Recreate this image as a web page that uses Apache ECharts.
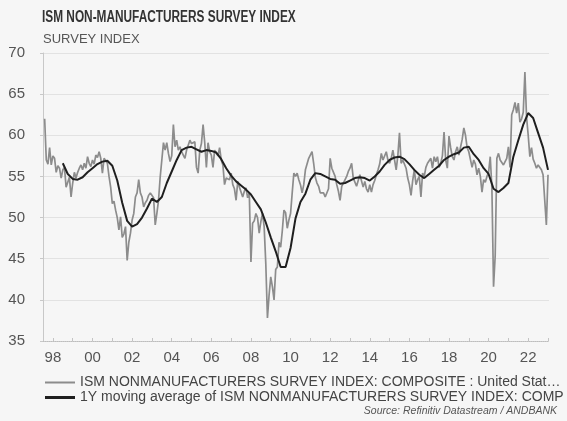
<!DOCTYPE html>
<html><head><meta charset="utf-8">
<script src="https://cdn.jsdelivr.net/npm/echarts@6/dist/echarts.min.js"></script>
<style>html,body{margin:0;padding:0;background:#f6f6f6}#c{width:567px;height:421px}</style>
</head><body><div id="c"></div>
<script>
// Monthly ISM non-manufacturing composite, first value Aug 1997
const firstYear = 1997, firstMonth = 8;
const v1997 = [62.0, 57.0, 56.5, 58.5, 56.4];
const v1998 = [57.5, 57.2, 55.5, 56.3, 56.0, 54.8, 55.8, 56.1, 53.7, 54.3, 54.9, 52.5];
const v1999 = [54.2, 55.5, 54.8, 55.5, 56.0, 56.4, 55.8, 56.6, 56.0, 57.4, 56.6, 56.2];
const v2000 = [57.0, 56.5, 57.6, 57.3, 58.0, 57.2, 55.4, 57.2, 57.0, 56.6, 55.0, 53.7];
const v2001 = [51.7, 52.0, 50.9, 50.0, 48.5, 50.1, 47.6, 48.0, 48.9, 44.8, 47.0, 48.1];
const v2002 = [49.7, 50.5, 52.5, 53.0, 54.6, 53.0, 52.5, 51.3, 51.8, 52.1, 52.7, 53.0];
const v2003 = [52.8, 52.4, 49.1, 50.5, 52.1, 54.9, 57.0, 59.1, 58.2, 59.1, 57.8, 56.8];
const v2004 = [57.5, 61.3, 58.6, 59.4, 58.2, 58.6, 58.0, 57.6, 57.2, 58.2, 58.8, 59.4];
const v2005 = [59.0, 59.0, 59.2, 56.1, 55.4, 58.2, 59.0, 61.3, 59.1, 56.1, 59.1, 58.0];
const v2006 = [57.6, 56.1, 58.2, 57.8, 57.5, 58.5, 57.0, 56.4, 54.0, 54.8, 55.0, 54.6];
const v2007 = [55.4, 54.0, 53.5, 52.1, 54.4, 53.7, 53.5, 52.5, 53.2, 53.6, 52.4, 53.0];
const v2008 = [44.6, 49.3, 49.6, 50.5, 50.0, 48.1, 49.5, 50.5, 48.9, 44.4, 37.8, 40.6];
const v2009 = [42.8, 41.6, 40.0, 43.7, 44.0, 47.0, 46.4, 48.4, 50.9, 50.6, 48.7, 49.7];
const v2010 = [50.5, 53.0, 55.4, 55.0, 55.4, 54.6, 54.0, 53.0, 54.0, 55.8, 56.5, 57.2];
const v2011 = [57.4, 58.0, 56.6, 54.9, 54.2, 53.8, 53.0, 52.8, 53.0, 52.5, 52.6, 53.5];
const v2012 = [57.2, 56.0, 55.8, 55.0, 54.0, 53.2, 52.1, 53.8, 54.2, 54.4, 55.0, 55.6];
const v2013 = [56.0, 56.6, 54.8, 54.6, 53.8, 54.0, 55.2, 55.0, 53.7, 54.4, 53.5, 53.1];
const v2014 = [54.0, 53.1, 54.0, 54.5, 55.2, 55.8, 56.5, 57.8, 57.0, 57.2, 58.0, 57.0];
const v2015 = [56.6, 57.2, 58.2, 57.0, 55.8, 57.5, 60.3, 56.6, 57.0, 57.2, 56.0, 54.8];
const v2016 = [54.0, 52.7, 54.5, 55.8, 54.0, 54.6, 55.0, 52.5, 55.4, 55.0, 56.1, 56.6];
const v2017 = [56.6, 57.2, 56.0, 57.4, 56.8, 57.4, 56.1, 56.6, 57.5, 60.4, 57.0, 56.0];
const v2018 = [59.9, 58.5, 57.4, 57.0, 58.0, 58.6, 57.6, 57.6, 59.5, 60.9, 60.0, 58.5];
const v2019 = [58.0, 57.8, 56.1, 57.0, 56.5, 55.2, 56.0, 55.0, 53.1, 54.6, 54.3, 55.0];
const v2020 = [55.5, 57.4, 53.6, 41.6, 45.4, 57.2, 57.8, 57.0, 57.0, 56.4, 56.8, 57.2];
const v2021 = [58.6, 56.1, 62.5, 63.1, 64.0, 62.7, 63.9, 61.6, 62.0, 62.8, 67.7, 62.2];
const v2022 = [60.0, 57.4, 58.5, 57.1, 56.6, 56.0, 56.4, 56.2, 55.8, 55.2, 55.4, 49.1];
const v2023 = [55.2];

// 1Y moving average, read every 3 months starting Jul 1998
const maFirstYear = 1998, maFirstMonth = 7, maStepMonths = 3;
const maValues = [56.6,55.3,54.7,54.6,54.9,55.5,56.0,56.5,56.8,56.9,
  56.3,54.5,51.8,49.6,48.9,49.2,50.0,51.1,52.3,51.9,
  52.5,54.2,55.6,57.0,58.2,58.5,58.6,58.3,58.0,58.2,
  58.1,57.9,57.1,56.0,55.1,54.4,53.9,53.4,52.8,51.9,
  51.0,49.4,47.6,45.9,44.0,44.0,46.3,49.9,51.9,52.9,
  54.6,55.4,55.3,55.0,54.7,54.6,54.1,54.2,54.5,54.8,
  54.9,54.8,54.5,55.0,55.6,56.4,57.0,57.3,57.4,57.1,
  56.5,55.8,55.2,54.8,55.3,55.8,56.3,57.0,57.4,57.7,
  57.9,58.5,58.6,57.7,57.0,56.0,55.3,53.5,53.1,53.6,
  54.2,57.4,59.4,61.3,62.7,62.1,60.3,58.5,55.8];

const yearTicks = [1998,2000,2002,2004,2006,2008,2010,2012,2014,2016,2018,2020,2022];
const titleText = 'ISM NON-MANUFACTURERS SURVEY INDEX';
const subtitleText = 'SURVEY INDEX';
const sourceText = 'Source: Refinitiv Datastream / ANDBANK';
const name1 = 'ISM NONMANUFACTURERS SURVEY INDEX: COMPOSITE : United Stat\u2026';
const name2 = '1Y moving average of ISM NONMANUFACTURERS SURVEY INDEX: COMP';

const monthly = [].concat(v1997,v1998,v1999,v2000,v2001,v2002,v2003,v2004,v2005,v2006,v2007,v2008,
  v2009,v2010,v2011,v2012,v2013,v2014,v2015,v2016,v2017,v2018,v2019,v2020,v2021,v2022,v2023);
const t0 = firstYear + (firstMonth - 1) / 12;
const grayData = monthly.map((v, i) => [t0 + i / 12, v]);
const m0 = maFirstYear + (maFirstMonth - 1) / 12;
const maData = maValues.map((v, i) => [m0 + i * maStepMonths / 12, v]);

const everyYear = [];
for (let y = 1998; y <= 2023; y++) everyYear.push(y);

const FF = 'Liberation Sans, Arial, sans-serif';
const chart = echarts.init(document.getElementById('c'), null, {renderer: 'canvas'});
chart.setOption({
  backgroundColor: '#f6f6f6',
  animation: false,
  textStyle: {fontFamily: FF},
  graphic: [
    {type: 'text', x: 42, y: 10, scaleX: 0.74, style: {text: titleText, fontFamily: FF, fontWeight: 'bold',
      fontSize: 16, fill: '#333', verticalAlign: 'top'}},
    {type: 'text', x: 43, y: 33, style: {text: subtitleText, fontFamily: FF, fontSize: 13,
      fill: '#555', verticalAlign: 'top'}},
    {type: 'text', x: 557, y: 411, style: {text: sourceText, fontFamily: FF, fontStyle: 'italic',
      fontSize: 10.5, fill: '#555', align: 'right', verticalAlign: 'middle'}}
  ],
  grid: {left: 43, right: 18, top: 53, bottom: 80, containLabel: false},
  legend: {
    orient: 'vertical', left: 40, top: 370, itemWidth: 30, itemHeight: 10, itemGap: 0,
    textStyle: {fontSize: 14, color: '#444', fontFamily: FF, lineHeight: 15},
    symbolKeepAspect: true,
    data: [
      {name: name1, icon: 'path://M0 0 H30 V2 H0 Z', itemStyle: {color: '#8c8c8c'}},
      {name: name2, icon: 'path://M0 0 H30 V3 H0 Z', itemStyle: {color: '#1f1f1f'}}
    ]
  },
  xAxis: {
    type: 'value', min: 1997.5, max: 2023.05,
    axisLine: {show: true, lineStyle: {color: '#bdbdbd', type: 'dotted'}},
    axisTick: {show: true, inside: true, length: 3, customValues: everyYear, lineStyle: {color: '#c4c4c4'}},
    axisLabel: {customValues: yearTicks, formatter: v => String(Math.round(v)).slice(2),
      fontSize: 15, color: '#555', margin: 9},
    splitLine: {show: false}
  },
  yAxis: {
    type: 'value', min: 35, max: 70, interval: 5,
    axisLine: {show: true, lineStyle: {color: '#c8c8c8'}},
    axisTick: {show: true, inside: false, length: 3, lineStyle: {color: '#c8c8c8'}},
    axisLabel: {fontSize: 15, color: '#555', margin: 18},
    splitLine: {show: true, lineStyle: {color: '#e2e2e2', width: 1}}
  },
  series: [
    {name: name1, type: 'line', data: grayData, symbol: 'none', showSymbol: false,
     lineStyle: {color: '#8c8c8c', width: 1.7}, itemStyle: {color: '#8c8c8c'}, z: 2},
    {name: name2, type: 'line', data: maData, symbol: 'none', showSymbol: false,
     lineStyle: {color: '#1f1f1f', width: 2}, itemStyle: {color: '#1f1f1f'}, z: 3}
  ]
});
</script></body></html>
